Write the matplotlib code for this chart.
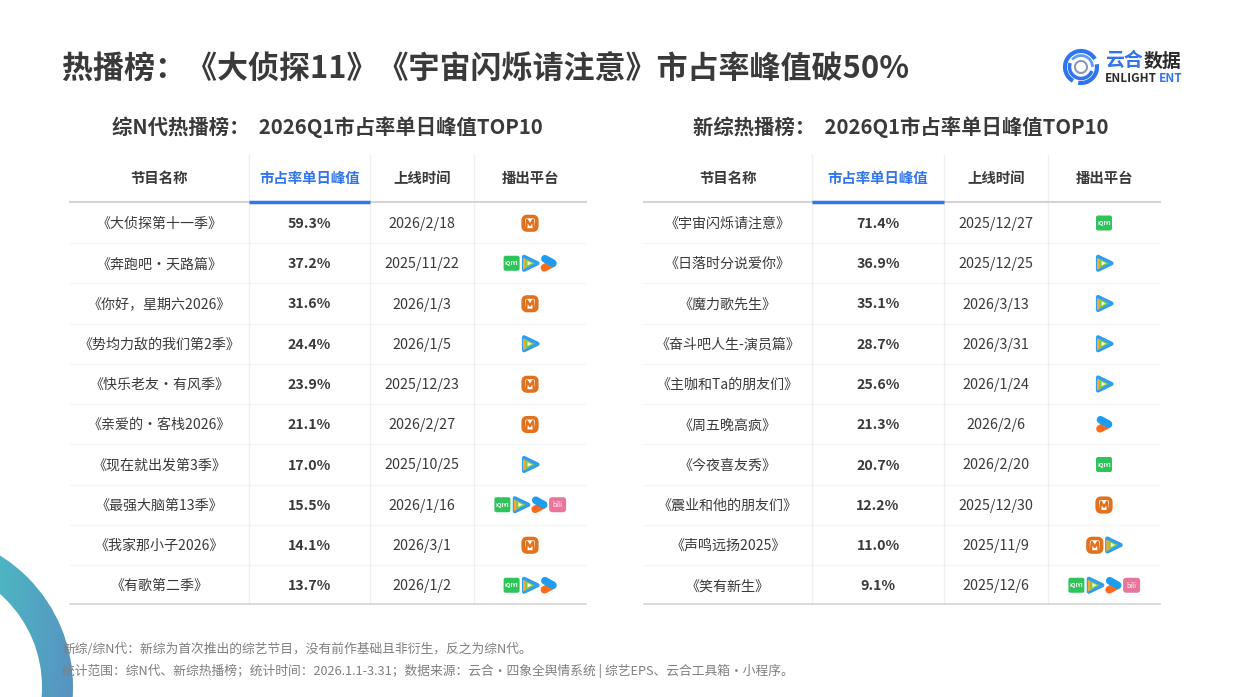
import numpy as np
import matplotlib
matplotlib.use("Agg")
import matplotlib.pyplot as plt
from matplotlib.patches import Wedge, FancyBboxPatch, Polygon, Arc

plt.rcParams["font.family"] = ["Noto Sans CJK SC", "DejaVu Sans"]

title = "热播榜：《大侦探11》《宇宙闪烁请注意》市占率峰值破50%"
headers = ["节目名称", "市占率单日峰值", "上线时间", "播出平台"]

left_title = "综N代热播榜：  2026Q1市占率单日峰值TOP10"
left_names = ["《大侦探第十一季》", "《奔跑吧·天路篇》", "《你好，星期六2026》", "《势均力敌的我们第2季》",
              "《快乐老友·有风季》", "《亲爱的·客栈2026》", "《现在就出发第3季》", "《最强大脑第13季》",
              "《我家那小子2026》", "《有歌第二季》"]
left_peak = [59.3, 37.2, 31.6, 24.4, 23.9, 21.1, 17.0, 15.5, 14.1, 13.7]
left_dates = ["2026/2/18", "2025/11/22", "2026/1/3", "2026/1/5", "2025/12/23",
              "2026/2/27", "2025/10/25", "2026/1/16", "2026/3/1", "2026/1/2"]
left_platforms = [["mg"], ["iq", "tx", "yk"], ["mg"], ["tx"], ["mg"],
                  ["mg"], ["tx"], ["iq", "tx", "yk", "bl"], ["mg"], ["iq", "tx", "yk"]]

right_title = "新综热播榜：  2026Q1市占率单日峰值TOP10"
right_names = ["《宇宙闪烁请注意》", "《日落时分说爱你》", "《魔力歌先生》", "《奋斗吧人生-演员篇》",
               "《主咖和Ta的朋友们》", "《周五晚高疯》", "《今夜喜友秀》", "《震业和他的朋友们》",
               "《声鸣远扬2025》", "《笑有新生》"]
right_peak = [71.4, 36.9, 35.1, 28.7, 25.6, 21.3, 20.7, 12.2, 11.0, 9.1]
right_dates = ["2025/12/27", "2025/12/25", "2026/3/13", "2026/3/31", "2026/1/24",
               "2026/2/6", "2026/2/20", "2025/12/30", "2025/11/9", "2025/12/6"]
right_platforms = [["iq"], ["tx"], ["tx"], ["tx"], ["tx"],
                   ["yk"], ["iq"], ["mg"], ["mg", "tx"], ["iq", "tx", "yk", "bl"]]

note1 = "新综/综N代：新综为首次推出的综艺节目，没有前作基础且非衍生，反之为综N代。"
note2 = "统计范围：综N代、新综热播榜；统计时间：2026.1.1-3.31；数据来源：云合·四象全舆情系统 | 综艺EPS、云合工具箱·小程序。"

DARK = "#3a3a3a"
BLUE = "#2f74f0"

fig = plt.figure(figsize=(12.4, 6.97), dpi=100)
ax = fig.add_axes([0, 0, 1, 1])
ax.set_xlim(0, 1240)
ax.set_ylim(697, 0)
ax.axis("off")

# corner ring with gradient
ring = Wedge((-82, 687), 155, 0, 360, width=31, transform=ax.transData, fc="none", ec="none")
ax.add_patch(ring)
gx, gy = np.meshgrid(np.linspace(0, 1, 80), np.linspace(0, 1, 150))
c1 = np.array([0x4d, 0xb6, 0xc2]) / 255
c2 = np.array([0x58, 0x90, 0xc2]) / 255
t = np.clip(gx * 0.8 + gy * 0.2, 0, 1)[..., None]
grad = c1 * (1 - t) + c2 * t
im = ax.imshow(grad, extent=[0, 80, 697, 547], aspect="auto", zorder=0)
im.set_clip_path(ring)
ax.set_xlim(0, 1240)
ax.set_ylim(697, 0)


def draw_mango(cx, cy):
    ax.add_patch(FancyBboxPatch((cx - 6.8, cy - 6.5), 13.6, 13.5, boxstyle="round,pad=0,rounding_size=4",
                                fc="white", ec="#e2711d", lw=2.6, zorder=3))
    ax.plot([cx - 3.8, cx - 3, cx, cx + 3, cx + 3.8], [cy + 4.5, cy - 3, cy + 2, cy - 3, cy + 4.5],
            color="#e2711d", lw=1.7, zorder=4)


def draw_tencent(cx, cy):
    ax.add_patch(Polygon([[cx - 6, cy - 6.5], [cx + 7.5, cy], [cx - 6, cy + 6.5]],
                         closed=True, fc="#2f9df0", ec="#2f9df0", lw=3, joinstyle="round", zorder=3))
    ax.add_patch(Polygon([[cx - 7, cy - 5.5], [cx - 1, cy - 2.5], [cx - 1, cy + 3], [cx - 7, cy + 6.5]],
                         closed=True, fc="#f2a93b", ec="none", zorder=4))
    ax.add_patch(Polygon([[cx - 4.5, cy - 4.5], [cx + 5, cy], [cx - 4.5, cy + 4.5]],
                         closed=True, fc="#7fc93f", ec="none", zorder=5))
    ax.add_patch(Polygon([[cx - 2.5, cy - 2.3], [cx + 2, cy], [cx - 2.5, cy + 2.3]],
                         closed=True, fc="#f2f7e6", ec="none", zorder=6))


def draw_youku(cx, cy):
    ax.plot([cx - 3.5, cx + 4.5], [cy - 4.5, cy], color="#1e9cf0", lw=5.5, solid_capstyle="round", zorder=4)
    ax.plot([cx + 3.5, cx - 4], [cy + 0.5, cy + 4.5], color="#ff6a1a", lw=5.5, solid_capstyle="round", zorder=3)


def draw_iqiyi(cx, cy):
    ax.add_patch(FancyBboxPatch((cx - 8, cy - 7.5), 16, 15, boxstyle="round,pad=0,rounding_size=2",
                                fc="#2fc35c", ec="none", zorder=3))
    ax.text(cx, cy + 0.5, "iQIYI", color="white", fontsize=4.2, ha="center", va="center", fontweight="bold", zorder=4)


def draw_bili(cx, cy):
    ax.add_patch(FancyBboxPatch((cx - 8.5, cy - 7.5), 17, 15, boxstyle="round,pad=0,rounding_size=3",
                                fc="#e8759b", ec="none", zorder=3))
    ax.text(cx, cy + 0.5, "bili", color="white", fontsize=5, ha="center", va="center", zorder=4)


icons = {"mg": draw_mango, "tx": draw_tencent, "yk": draw_youku, "iq": draw_iqiyi, "bl": draw_bili}


def draw_table(x_edges, sub_title, sub_x, names, peaks, dates, platforms):
    x0, x1, x2, x3, x4 = x_edges
    ax.text(sub_x, 127.5, sub_title, fontsize=14.65, fontweight="bold", color=DARK, ha="center", va="center")
    for x in (x1, x2, x3):
        ax.plot([x, x], [155, 604], color="#f0f0f0", lw=1, zorder=1)
    centers = [(x0 + x1) / 2, (x1 + x2) / 2, (x2 + x3) / 2, (x3 + x4) / 2]
    for i, (cx, h) in enumerate(zip(centers, headers)):
        ax.text(cx, 178.5, h, fontsize=10.4, fontweight="bold", ha="center", va="center",
                color=BLUE if i == 1 else DARK)
    ax.plot([x0, x4], [202, 202], color="#d4d4d4", lw=1.5, zorder=1)
    ax.plot([x1, x2], [202, 202], color=BLUE, lw=2.5, zorder=2, solid_capstyle="butt")
    ax.plot([x0, x4], [604, 604], color="#d4d4d4", lw=1.2, zorder=1)
    for i in range(10):
        cy = 223 + i * 40.25
        if i < 9:
            ax.plot([x0, x4], [cy + 20, cy + 20], color="#ececec", lw=0.8, ls=(0, (1, 1)), zorder=1)
        ax.text(centers[0], cy + 1, names[i], fontsize=10.1, color=DARK, ha="center", va="center")
        ax.text(centers[1], cy + 1, f"{peaks[i]:.1f}%", fontsize=10.2, fontweight="bold", color=DARK,
                ha="center", va="center")
        ax.text(centers[2], cy + 1, dates[i], fontsize=10.3, color=DARK, ha="center", va="center")
        n = len(platforms[i])
        start = centers[3] - (n - 1) * 9.2
        for j, p in enumerate(platforms[i]):
            icons[p](start + j * 18.4, cy)


draw_table([70, 249, 370, 474, 586], left_title, 327, left_names, left_peak, left_dates, left_platforms)
draw_table([644, 812, 944, 1048, 1160], right_title, 901, right_names, right_peak, right_dates, right_platforms)

ax.text(62, 69, title, fontsize=22.35, fontweight="bold", color=DARK, ha="left", va="center")

ax.text(62, 649, note1, fontsize=9.18, color="#7f7f7f", ha="left", va="center", zorder=5)
ax.text(62, 670.5, note2, fontsize=9.18, color="#7f7f7f", ha="left", va="center", zorder=5)

# logo
lc = (1081, 67)
ax.add_patch(Arc(lc, 32, 32, theta1=120, theta2=330, color="#2f74f0", lw=3))
ax.add_patch(Arc(lc, 32, 32, theta1=350, theta2=100, color="#2f74f0", lw=3))
ax.add_patch(Arc(lc, 23, 23, theta1=20, theta2=200, color="#2f74f0", lw=2.5))
ax.add_patch(Arc(lc, 23, 23, theta1=220, theta2=360, color="#5f9cf5", lw=2))
ax.add_patch(Arc(lc, 12, 12, theta1=0, theta2=360, color="#8a9ab5", lw=1.5))
ax.text(1105, 61, "云合", fontsize=13.6, fontweight="bold", color=BLUE, ha="left", va="center")
ax.text(1144, 61, "数据", fontsize=13.6, fontweight="bold", color="#2b2b2b", ha="left", va="center")
ax.text(1105, 78, "ENLIGHT", fontsize=8.5, fontweight="bold", color="#2b2b2b", ha="left", va="center")
ax.text(1159, 78, "ENT", fontsize=8.5, fontweight="bold", color=BLUE, ha="left", va="center")

fig.savefig("out.png", dpi=100)
